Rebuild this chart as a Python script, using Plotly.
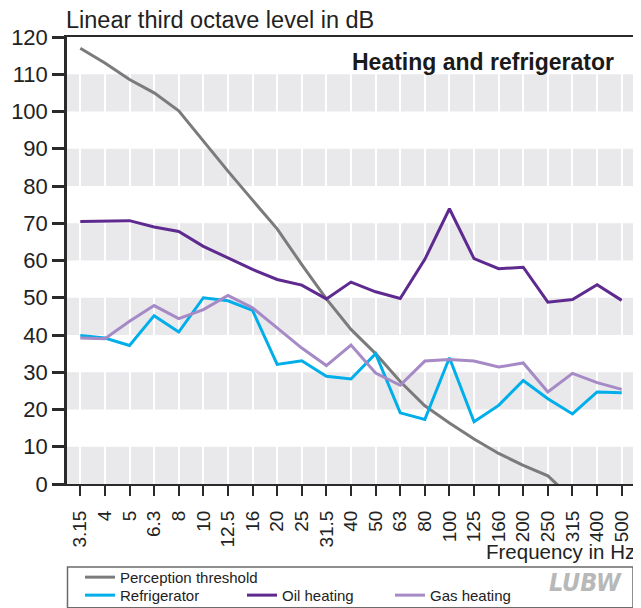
import plotly.graph_objects as go

# ---- data ----
freqs = ["3.15", "4", "5", "6.3", "8", "10", "12.5", "16", "20", "25", "31.5", "40",
         "50", "63", "80", "100", "125", "160", "200", "250", "315", "400", "500"]

perception = [117, 113, 108.6, 105, 100.2, 92, 84, 76.2, 68.5, 58.9, 49.7, 41.5,
              35, 27.5, 21, 16.4, 12.1, 8.2, 5.0, 2.2, -4, None, None]
refrigerator = [39.9, 39.2, 37.2, 45.2, 40.8, 50.0, 49.2, 46.6, 32.1, 33.1, 28.9, 28.2,
                35.0, 19.1, 17.3, 33.9, 16.7, 21.1, 27.8, 22.9, 18.8, 24.7, 24.5]
oil_heating = [70.5, 70.7, 70.7, 69.0, 67.8, 63.8, 60.7, 57.6, 54.9, 53.4, 49.7, 54.2,
               51.6, 49.8, 60.3, 73.9, 60.5, 57.8, 58.2, 48.8, 49.5, 53.5, 49.3]
gas_heating = [39.2, 39.0, 43.7, 47.9, 44.4, 46.8, 50.6, 47.3, 41.9, 36.5, 31.8, 37.3,
               29.8, 26.5, 33.0, 33.4, 33.0, 31.4, 32.5, 24.7, 29.7, 27.2, 25.4]

y_ticks = list(range(0, 121, 10))

# ---- styling ----
FONT = "Liberation Sans, Arial, sans-serif"
C_PERC = "#7b7b7b"
C_REF = "#00aeea"
C_OIL = "#5e2a8f"
C_GAS = "#a68ac6"
BAND = "#e9e9ec"

OFF = 8  # page body margin of the html page
W, H = 641 - OFF, 608 - OFF
PL, PR, PT, PB = 67, 634, 37, 484.5  # plot area in page pixels
ML = PL - OFF
MR = W - (PR - OFF)
MT = PT - OFF
MB = H - (PB - OFF)
PW = W - ML - MR
PH = H - MT - MB


def px_x(px):
    return (px - OFF - ML) / PW


def px_y(py):
    return (H - MB - (py - OFF)) / PH


fig = go.Figure()

series = [
    ("Perception threshold", perception, C_PERC, "legend"),
    ("Refrigerator", refrigerator, C_REF, "legend2"),
    ("Oil heating", oil_heating, C_OIL, "legend3"),
    ("Gas heating", gas_heating, C_GAS, "legend4"),
]
for name, vals, col, lg in series:
    fig.add_trace(go.Scatter(
        x=freqs, y=vals, mode="lines", name=name, showlegend=True,
        line=dict(color=col, width=3), legend=lg, connectgaps=False,
        hoverinfo="x+y+name",
    ))

# alternating grey bands
for lo in range(0, 120, 20):
    fig.add_shape(type="rect", xref="paper", yref="y", x0=0, x1=1, y0=lo, y1=lo + 10,
                  fillcolor=BAND, line=dict(width=0), layer="below")

# legend frame
fig.add_shape(type="rect", xref="paper", yref="paper",
              x0=px_x(67.5), x1=px_x(633), y0=px_y(567.5), y1=px_y(608.5),
              line=dict(color="#6a6a6a", width=1.5), fillcolor="rgba(0,0,0,0)")

leg_common = dict(bgcolor="rgba(0,0,0,0)", borderwidth=0, xanchor="left",
                  yanchor="middle", font=dict(family=FONT, size=15, color="#222"),
                  orientation="v")
row1 = px_y(578)
row2 = px_y(596)

fig.update_layout(
    width=W, height=H,
    margin=dict(l=ML, r=MR, t=MT, b=MB, pad=0, autoexpand=False),
    paper_bgcolor="white", plot_bgcolor="white",
    font=dict(family=FONT, color="#222"),
    showlegend=True,
    legend=dict(x=px_x(80), y=row1, **leg_common),
    legend2=dict(x=px_x(80), y=row2, **leg_common),
    legend3=dict(x=px_x(242), y=row2, **leg_common),
    legend4=dict(x=px_x(390), y=row2, **leg_common),
    xaxis=dict(
        type="category", categoryorder="array", categoryarray=freqs,
        range=[-0.54, 22.5], tickangle=-90,
        showgrid=True, gridcolor="white", gridwidth=2,
        showline=True, linecolor="#2a2a2a", linewidth=2, mirror=True,
        ticks="outside", ticklen=10, tickwidth=2, tickcolor="#2a2a2a",
        ticklabelstandoff=7,
        tickfont=dict(family=FONT, size=19, color="#222"),
        zeroline=False,
    ),
    yaxis=dict(
        range=[0, 120], tickvals=y_ticks,
        showgrid=False,
        showline=True, linecolor="#2a2a2a", linewidth=2.5, mirror=True,
        ticks="outside", ticklen=12, tickwidth=2.5, tickcolor="#2a2a2a",
        tickfont=dict(family=FONT, size=22, color="#222"),
        zeroline=False,
    ),
    annotations=[
        dict(text="Linear third octave level in dB", xref="paper", yref="paper",
             x=px_x(67), y=px_y(19.5), xanchor="left", yanchor="middle", showarrow=False,
             xshift=-3, font=dict(family=FONT, size=23.5, color="#222")),
        dict(text="<b>Heating and refrigerator</b>", xref="paper", yref="paper",
             x=px_x(613), y=px_y(62), xanchor="right", yanchor="middle", showarrow=False,
             xshift=3, font=dict(family=FONT, size=23, color="#1a1a1a")),
        dict(text="Frequency in Hz", xref="paper", yref="paper",
             x=px_x(634), y=px_y(552), xanchor="right", yanchor="middle", showarrow=False,
             xshift=3, font=dict(family=FONT, size=20.5, color="#222")),
        dict(text="<b><i>LUBW</i></b>", xref="paper", yref="paper",
             x=px_x(624), y=px_y(583), xanchor="right", yanchor="middle", showarrow=False,
             font=dict(family="DejaVu Sans Condensed, Liberation Sans Narrow, sans-serif",
                       size=25, color="#b8b8b8")),
    ],
)

fig.write_html("out.html")
